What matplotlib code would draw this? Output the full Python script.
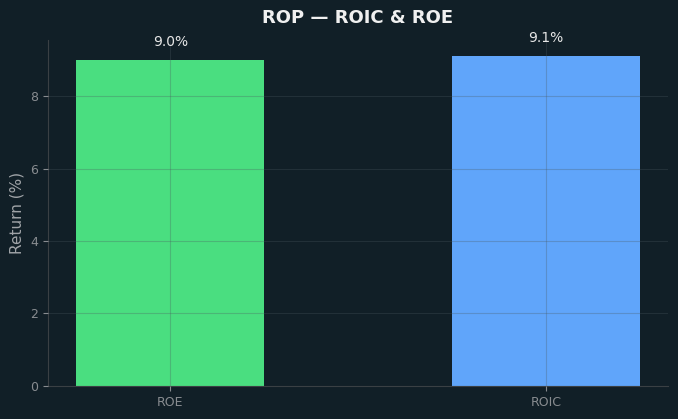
import matplotlib.pyplot as plt

BG = "#111f27"
categories = ["ROE", "ROIC"]
values = [9.0, 9.1]
bar_colors = ["#4ade80", "#60a5fa"]

fig, ax = plt.subplots(figsize=(6.78, 4.19), dpi=100)
fig.patch.set_facecolor(BG)
ax.set_facecolor(BG)

bars = ax.bar(categories, values, width=0.5, color=bar_colors)
for bar, v in zip(bars, values):
    ax.annotate(f"{v:.1f}%", (bar.get_x() + bar.get_width() / 2, bar.get_height()),
                xytext=(0, 8), textcoords="offset points", ha="center", va="bottom",
                fontsize=10, color="#e6e6e6")

ax.set_title("ROP — ROIC & ROE", fontsize=13, fontweight="bold", color="#f0f0f0", pad=12)
ax.set_ylabel("Return (%)", fontsize=11, color="#a0a4a8")
ax.tick_params(colors="#888c90", labelsize=9)
for s in ("top", "right"):
    ax.spines[s].set_visible(False)
for s in ("left", "bottom"):
    ax.spines[s].set_color("#3a4044")
ax.set_axisbelow(False)
ax.grid(True, color="#4a5a60", alpha=0.3, linewidth=0.8)

fig.subplots_adjust(left=0.071, right=0.985, bottom=0.079, top=0.905)
fig.savefig("out.png", dpi=100, facecolor=BG)
